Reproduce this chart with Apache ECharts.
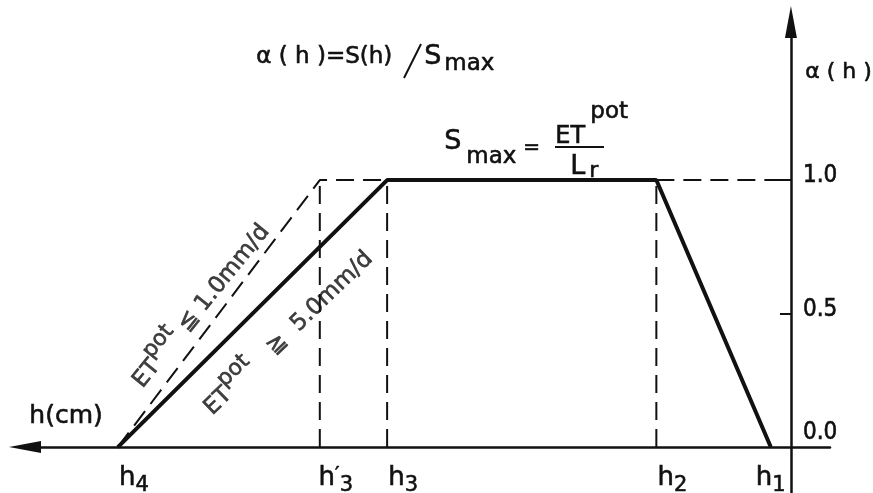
<!DOCTYPE html>
<html>
<head>
<meta charset="utf-8">
<script src="https://cdn.jsdelivr.net/npm/echarts@6.0.0/dist/echarts.min.js"></script>
<style>
  html, body { margin: 0; background: #fff; }
  #chart { width: 873px; height: 493px; }
</style>
</head>
<body>
<div id="chart"></div>
<script>
// pressure head points (schematic, not to scale) and their names
const hNames = ['h4', "h3'", 'h3', 'h2', 'h1'];
const hValues = [-10, -7, -6, -2, -0.3];

// alpha(h) for high demand, ET pot >= 5.0 mm/d
const highH = [-10, -6, -2, -0.3];
const highAlpha = [0, 1, 1, 0];

// alpha(h) for low demand, ET pot <= 1.0 mm/d
const lowH = [-10, -7, -6];
const lowAlpha = [0, 1, 1];

// dashed guides: verticals at h3', h3, h2 and the 1.0 level from h2 to the axis
const guideH = [-7, -6, -2];
const levelH = [-2, 0];

const alphaTicks = [0, 0.5, 1];
const alphaLabels = ['0.0', '0.5', '1.0'];

const INK = '#111';
const FONT = "'DejaVu Sans', sans-serif";
const NARROW = "'DejaVu Sans Condensed', 'Liberation Sans Narrow', sans-serif";
// a thin outline in the same colour makes the lettering a bit heavier, like the stencil
const heavy = { color: INK, textBorderColor: INK, textBorderWidth: 0.6 };

const chart = echarts.init(document.getElementById('chart'));

function pairs(xs, ys) {
  return xs.map((x, i) => [x, ys[i]]);
}

function txt(left, top, text, size) {
  return {
    type: 'text', left: left, top: top,
    style: { text: text, font: size + 'px ' + FONT, fill: INK, stroke: INK, lineWidth: 0.6 },
  };
}

const dashed = { color: INK, width: 2, type: [18, 9] };

const series = [];
guideH.forEach((h) => {
  series.push({
    type: 'line', symbol: 'none', silent: true,
    data: [[h, 0], [h, 1]],
    lineStyle: dashed,
  });
});
series.push({
  type: 'line', symbol: 'none', silent: true,
  data: levelH.map((h) => [h, 1]),
  lineStyle: dashed,
});
series.push({
  name: 'ET pot <= 1.0 mm/d',
  type: 'line', symbol: 'none',
  data: pairs(lowH, lowAlpha),
  lineStyle: dashed,
});
series.push({
  name: 'ET pot >= 5.0 mm/d',
  type: 'line', symbol: 'none', z: 5,
  data: pairs(highH, highAlpha),
  lineStyle: { color: INK, width: 4 },
});

// text along the two slopes
const slopeRich = {
  t: Object.assign({ fontFamily: FONT, fontSize: 23, verticalAlign: 'bottom' }, heavy),
  sup: Object.assign({ fontFamily: FONT, fontSize: 22, verticalAlign: 'top', padding: [0, 0, 12, 0] }, heavy),
};
series.push({
  type: 'scatter', symbolSize: 0, silent: true,
  data: [
    { value: [-8.82, 0.54], label: { rotate: 51, formatter: '{t|ET}{sup|pot}{t| ≦ 1.0mm/d}' } },
    { value: [-7.52, 0.44], label: { rotate: 44, formatter: '{t|ET}{sup|pot}{t|   ≧  5.0mm/d}' } },
  ],
  label: {
    show: true, position: 'inside', align: 'center', verticalAlign: 'middle',
    color: INK, textBorderWidth: 0, rich: slopeRich,
  },
});

const option = {
  animation: false,
  backgroundColor: '#fff',
  grid: { left: 25, right: 43, top: 22, bottom: 0, outerBoundsMode: 'none' },
  xAxis: {
    type: 'value', min: -11.38, max: 0.58,
    splitLine: { show: false },
    axisLine: {
      onZero: true,
      symbol: ['triangle', 'none'], symbolSize: [12, 32],
      lineStyle: { color: INK, width: 2.5 },
    },
    axisTick: { show: false },
    axisLabel: {
      customValues: hValues,
      margin: -28,
      formatter: (v) => {
        const i = hValues.findIndex((h) => Math.abs(h - v) < 1e-6);
        if (i < 0) return '';
        const name = hNames[i];
        const sub = name.replace(/[h']/g, '');
        const prime = name.indexOf("'") > 0 ? '{p|′}' : '';
        if (name === 'h1') return '{h|h}{s|' + sub + '}';
        return '{gl|}{h|h}' + prime + '{s|' + sub + '}';
      },
      rich: {
        h: Object.assign({ fontFamily: FONT, fontSize: 26, verticalAlign: 'top' }, heavy),
        s: Object.assign({ fontFamily: FONT, fontSize: 21, verticalAlign: 'bottom', padding: [10, 0, 0, 0] }, heavy),
        p: Object.assign({ fontFamily: FONT, fontSize: 20, verticalAlign: 'top' }, heavy),
        gl: { width: 32 },
      },
    },
  },
  yAxis: {
    type: 'value', min: -0.172, max: 1.592, position: 'right',
    splitLine: { show: false },
    axisLine: {
      onZero: true,
      symbol: ['none', 'triangle'], symbolSize: [12, 32],
      lineStyle: { color: INK, width: 2.5 },
    },
    axisTick: {
      customValues: [0.5, 1], inside: true, length: 11,
      lineStyle: { color: INK, width: 2 },
    },
    axisLabel: {
      customValues: alphaTicks,
      margin: -27,
      formatter: (v) => {
        const i = alphaTicks.findIndex((a) => Math.abs(a - v) < 1e-6);
        if (i < 0) return '';
        return v === 0 ? '{z|' + alphaLabels[i] + '}' : '{n|' + alphaLabels[i] + '}';
      },
      rich: {
        n: Object.assign({ fontFamily: NARROW, fontSize: 24, padding: [0, 0, 8, 0] }, heavy),
        z: Object.assign({ fontFamily: NARROW, fontSize: 24, padding: [0, 0, 28, 0] }, heavy),
      },
    },
  },
  graphic: [
    txt(256, 45, 'α ( h )=S(h)', 23),
    { type: 'line', shape: { x1: 404, y1: 78, x2: 421, y2: 44 }, style: { stroke: INK, lineWidth: 2 } },
    txt(424, 43, 'S', 27),
    txt(444, 52, 'max', 23),
    txt(444, 128, 'S', 27),
    txt(466, 145, 'max', 23),
    txt(523, 137, '=', 20),
    txt(555, 124, 'ET', 24),
    txt(590, 100, 'pot', 23),
    { type: 'line', shape: { x1: 555, y1: 147, x2: 604, y2: 147 }, style: { stroke: INK, lineWidth: 2 } },
    txt(570, 153, 'L', 27),
    txt(589, 160, 'r', 22),
    txt(805, 61, 'α ( h )', 22),
    txt(29, 404, 'h(cm)', 25),
  ],
  series: series,
};

chart.setOption(option);
</script>
</body>
</html>
